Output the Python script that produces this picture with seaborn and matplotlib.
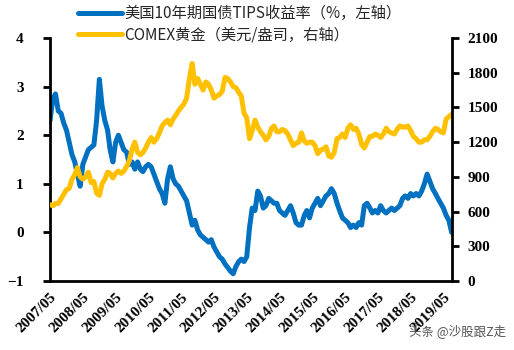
import matplotlib
matplotlib.use('Agg')
import matplotlib.pyplot as plt
import matplotlib.dates as mdates
from matplotlib.font_manager import FontProperties
import seaborn as sns
import pandas as pd

# ---- data (monthly) ----
start_month = '2007-05-01'
tips = [
    2.3, 2.75, 2.85, 2.5, 2.45, 2.25, 2.1, 1.85, 1.6, 1.45, 1.2, 0.95,
    1.4, 1.55, 1.7, 1.75, 1.8, 2.3, 3.15, 2.6, 2.3, 2.1, 1.7, 1.45,
    1.85, 2.0, 1.85, 1.7, 1.65, 1.4, 1.45, 1.3, 1.45, 1.3, 1.25, 1.35,
    1.4, 1.35, 1.2, 1.05, 0.9, 0.8, 0.6, 1.1, 1.35, 1.1, 1.0, 0.95,
    0.85, 0.75, 0.65, 0.4, 0.15, 0.25, 0.05, -0.05, -0.1, -0.15, -0.2, -0.15,
    -0.3, -0.4, -0.5, -0.55, -0.65, -0.72, -0.8, -0.85, -0.7, -0.6, -0.55, -0.6,
    -0.5, 0.1, 0.5, 0.45, 0.85, 0.75, 0.5, 0.55, 0.7, 0.65, 0.6, 0.6,
    0.45, 0.4, 0.35, 0.45, 0.55, 0.4, 0.2, 0.15, 0.15, 0.35, 0.45, 0.3,
    0.5, 0.6, 0.7, 0.55, 0.65, 0.75, 0.8, 0.9, 0.8, 0.6, 0.45, 0.3,
    0.25, 0.2, 0.1, 0.15, 0.1, 0.2, 0.15, 0.55, 0.6, 0.5, 0.4, 0.45,
    0.4, 0.55, 0.45, 0.4, 0.45, 0.5, 0.45, 0.5, 0.55, 0.7, 0.75, 0.7,
    0.8, 0.75, 0.8, 0.75, 0.85, 1.0, 1.2, 1.05, 0.9, 0.8, 0.7, 0.6,
    0.5, 0.35, 0.25, 0.0,
]
gold = [
    660, 650, 670, 670, 710, 750, 790, 800, 880, 920, 980, 900,
    880, 900, 940, 850, 860, 760, 740, 840, 880, 940, 930, 890,
    930, 950, 930, 950, 990, 1040, 1140, 1200, 1110, 1090, 1110, 1150,
    1200, 1240, 1200, 1230, 1280, 1340, 1370, 1390, 1350, 1400, 1430, 1470,
    1500, 1530, 1580, 1750, 1880, 1700, 1750, 1700, 1650, 1720, 1700, 1650,
    1580, 1600, 1610, 1640, 1760, 1750, 1720, 1680, 1670, 1630, 1600, 1450,
    1410, 1230, 1300, 1390, 1330, 1290, 1260, 1220, 1250, 1320, 1340, 1290,
    1290, 1310, 1300, 1270, 1220, 1170, 1190, 1200, 1280, 1210, 1190, 1200,
    1200, 1170, 1100, 1130, 1140, 1160, 1080, 1070, 1110, 1230, 1240, 1270,
    1240, 1320, 1350, 1310, 1320, 1270, 1180, 1150, 1200, 1250, 1250, 1270,
    1260, 1240, 1270, 1320, 1290, 1280, 1270, 1310, 1340, 1330, 1330, 1340,
    1300, 1250, 1230, 1200, 1200, 1220, 1220, 1250, 1290, 1320, 1310, 1290,
    1280, 1400, 1420, 1440,
]
label_tips = '美国10年期国债TIPS收益率（%，左轴）'
label_gold = 'COMEX黄金（美元/盎司，右轴）'
left_ticks = [-1, 0, 1, 2, 3, 4]
right_ticks = [0, 300, 600, 900, 1200, 1500, 1800, 2100]
watermark = '头条 @沙股跟Z走'

dates = pd.date_range(start_month, periods=len(tips), freq='MS')
df = pd.DataFrame({'date': dates, 'tips': tips, 'gold': gold})

sns.set_style('white')
# tick labels: bold serif (Times-like)
plt.rcParams['font.family'] = ['Liberation Serif', 'Noto Sans CJK SC']
plt.rcParams['font.weight'] = 'bold'

BLUE = '#0070C0'
GOLD = '#FFC000'

fig = plt.figure(figsize=(5.14, 3.5), dpi=100)
ax = fig.add_axes([50/514, 1-281/350, (452-50)/514, (281-38)/350])
ax2 = ax.twinx()

sns.lineplot(data=df, x='date', y='tips', ax=ax, color=BLUE, lw=3.6, label=label_tips, legend=False)
sns.lineplot(data=df, x='date', y='gold', ax=ax2, color=GOLD, lw=3.6, label=label_gold, legend=False)

ax.set_ylim(-1, 4)
ax2.set_ylim(0, 2100)
ax.set_yticks(left_ticks)
ax2.set_yticks(right_ticks)
ax.set_xlim(pd.Timestamp('2007-05-01'), pd.Timestamp('2019-08-05'))
ax.xaxis.set_major_locator(mdates.MonthLocator(bymonth=5, bymonthday=1))
ax.xaxis.set_major_formatter(mdates.DateFormatter('%Y/%m'))
ax.set_xlabel('')
ax.set_ylabel('')
ax2.set_ylabel('')

for a in (ax, ax2):
    a.spines['top'].set_visible(False)
    for s in ('left', 'right', 'bottom'):
        a.spines[s].set_linewidth(2.0)
        a.spines[s].set_color('black')
ax.spines['right'].set_visible(False)
ax2.spines['left'].set_visible(False)
ax2.spines['bottom'].set_visible(False)
ax.tick_params(axis='both', direction='out', length=5, width=2, color='black',
               labelcolor='black', labelsize=11)
ax.tick_params(axis='y', pad=14)
ax.tick_params(axis='x', pad=2, labelrotation=45)
ax2.tick_params(axis='y', direction='out', length=5, width=2, color='black',
                labelcolor='black', labelsize=11, pad=6)
for lab in ax.get_xticklabels():
    lab.set_ha('right')
    lab.set_rotation_mode('anchor')
ax.grid(False)
ax2.grid(False)

h1, l1 = ax.get_legend_handles_labels()
h2, l2 = ax2.get_legend_handles_labels()
leg_font = FontProperties(family=['Noto Sans CJK SC', 'DejaVu Sans'], weight='normal', size=11)
fig.legend(h1 + h2, l1 + l2, loc='upper left', bbox_to_anchor=(78/514, 1 - 5/350),
           frameon=False, prop=leg_font, handlelength=2.9, handletextpad=0.15,
           labelspacing=0.3, borderaxespad=0, borderpad=0)

fig.text(0.985, 0.035, watermark, ha='right', va='bottom', color='#555555',
         fontproperties=FontProperties(family=['Noto Sans CJK SC', 'DejaVu Sans'],
                                       weight='normal', size=9))

fig.savefig('out.png', dpi=100)
